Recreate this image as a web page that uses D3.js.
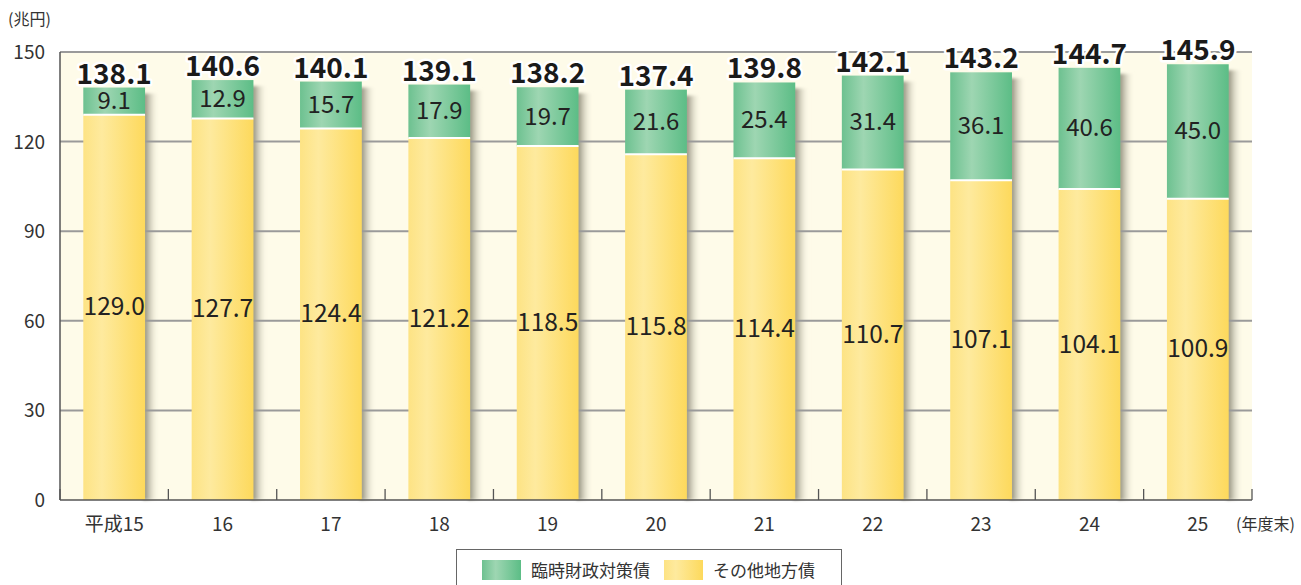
<!DOCTYPE html>
<html><head><meta charset="utf-8">
<script src="https://cdn.jsdelivr.net/npm/d3@7/dist/d3.min.js"></script>
<style>
body{margin:0;background:#fff;}
svg{display:block;font-family:"Noto Sans CJK JP","Noto Sans",sans-serif;}
</style></head>
<body><svg id="c" width="1301" height="585"></svg>
<script>
const categories = ["平成15","16","17","18","19","20","21","22","23","24","25"];
const otherDebt = [129.0,127.7,124.4,121.2,118.5,115.8,114.4,110.7,107.1,104.1,100.9];
const rinjiDebt = [9.1,12.9,15.7,17.9,19.7,21.6,25.4,31.4,36.1,40.6,45.0];
const totals = [138.1,140.6,140.1,139.1,138.2,137.4,139.8,142.1,143.2,144.7,145.9];
const yTicks = [0,30,60,90,120,150];
const seriesNames = ["臨時財政対策債","その他地方債"];

const svg = d3.select("#c");
const L=60, R=1252, T=52, B=500;
const x = d3.scaleBand().domain(categories).range([L,R]).paddingInner(0.43).paddingOuter(0.215);
const xb = d3.scaleBand().domain(categories).range([L,R]);
const y = d3.scaleLinear().domain([0,150]).range([B,T]);

const defs = svg.append("defs");
const gG = defs.append("linearGradient").attr("id","gG");
[[0,"#6dc190"],[0.35,"#9ed6b2"],[1,"#5cbd86"]].forEach(s=>gG.append("stop").attr("offset",s[0]).attr("stop-color",s[1]));
const gY = defs.append("linearGradient").attr("id","gY");
[[0,"#fde384"],[0.3,"#feea9e"],[1,"#fdd95c"]].forEach(s=>gY.append("stop").attr("offset",s[0]).attr("stop-color",s[1]));
const sh = defs.append("linearGradient").attr("id","sh");
[[0,"#85826f",1],[0.3,"#a9a694",0.8],[1,"#fefbe8",0]].forEach(s=>sh.append("stop").attr("offset",s[0]).attr("stop-color",s[1]).attr("stop-opacity",s[2]));
const flt = defs.append("filter").attr("id","blur").attr("x","-20%").attr("y","-20%").attr("width","140%").attr("height","140%");
flt.append("feGaussianBlur").attr("stdDeviation",1.5);

svg.append("rect").attr("x",L).attr("y",T).attr("width",R-L).attr("height",B-T).attr("fill","#fefbe9");

svg.append("g").selectAll("rect").data(categories).join("rect")
  .attr("x",d=>x(d)+x.bandwidth()-2).attr("y",(d,i)=>y(totals[i])+6)
  .attr("width",16).attr("height",(d,i)=>B-y(totals[i])-6)
  .attr("fill","url(#sh)").attr("filter","url(#blur)");

svg.append("g").selectAll("line").data(yTicks.filter(t=>t>0)).join("line")
  .attr("x1",L).attr("x2",R).attr("y1",d=>y(d)).attr("y2",d=>y(d))
  .attr("stroke","#9a9a9a").attr("stroke-width",2);

svg.append("g").selectAll("rect").data(categories).join("rect")
  .attr("x",d=>x(d)).attr("width",x.bandwidth())
  .attr("y",(d,i)=>y(otherDebt[i])).attr("height",(d,i)=>B-y(otherDebt[i]))
  .attr("fill","url(#gY)");
svg.append("g").selectAll("rect").data(categories).join("rect")
  .attr("x",d=>x(d)).attr("width",x.bandwidth())
  .attr("y",(d,i)=>y(otherDebt[i]+rinjiDebt[i])).attr("height",(d,i)=>y(otherDebt[i])-y(otherDebt[i]+rinjiDebt[i]))
  .attr("fill","url(#gG)");
svg.append("g").selectAll("line").data(categories).join("line")
  .attr("x1",d=>x(d)).attr("x2",d=>x(d)+x.bandwidth())
  .attr("y1",(d,i)=>y(otherDebt[i])).attr("y2",(d,i)=>y(otherDebt[i]))
  .attr("stroke","#fff").attr("stroke-width",2);

svg.append("line").attr("x1",L).attr("x2",L).attr("y1",T).attr("y2",B).attr("stroke","#555").attr("stroke-width",1.5);
svg.append("line").attr("x1",L).attr("x2",R).attr("y1",B).attr("y2",B).attr("stroke","#555").attr("stroke-width",1.5);
const tickXs = categories.map(d=>xb(d)).concat([R]);
svg.append("g").selectAll("line").data(tickXs).join("line")
  .attr("x1",d=>d).attr("x2",d=>d).attr("y1",B-11).attr("y2",B)
  .attr("stroke","#555").attr("stroke-width",1.3);

svg.append("g").selectAll("text").data(yTicks).join("text")
  .attr("x",45).attr("y",d=>y(d)+7).attr("text-anchor","end")
  .attr("font-size",19).attr("fill","#333").text(d=>d);
svg.append("g").selectAll("text").data(categories).join("text")
  .attr("x",d=>x(d)+x.bandwidth()/2).attr("y",531).attr("text-anchor","middle")
  .attr("font-size",19).attr("fill","#333").text(d=>d);
svg.append("text").attr("x",8).attr("y",25).attr("font-size",16).attr("fill","#333").text("(兆円)");
svg.append("text").attr("x",1236).attr("y",530).attr("font-size",16).attr("fill","#333").text("(年度末)");

svg.append("g").selectAll("text").data(categories).join("text")
  .attr("x",d=>x(d)+x.bandwidth()/2).attr("y",(d,i)=>y(otherDebt[i]/2)+8)
  .attr("text-anchor","middle").attr("font-size",24.5).attr("fill","#222")
  .text((d,i)=>otherDebt[i].toFixed(1));
svg.append("g").selectAll("text").data(categories).join("text")
  .attr("x",d=>x(d)+x.bandwidth()/2).attr("y",(d,i)=>y(otherDebt[i]+rinjiDebt[i]/2)+8)
  .attr("text-anchor","middle").attr("font-size",24).attr("fill","#222")
  .text((d,i)=>rinjiDebt[i].toFixed(1));
svg.append("g").selectAll("text").data(categories).join("text")
  .attr("x",d=>x(d)+x.bandwidth()/2).attr("y",(d,i)=>y(totals[i])-4)
  .attr("text-anchor","middle").attr("font-size",28).attr("font-weight","bold").attr("fill","#1a1a1a")
  .attr("stroke","#fff").attr("stroke-width",5).attr("paint-order","stroke").attr("stroke-linejoin","round")
  .text((d,i)=>totals[i].toFixed(1));

const lg = svg.append("g");
lg.append("rect").attr("x",456.5).attr("y",549.5).attr("width",385).attr("height",45).attr("fill","#fff").attr("stroke","#666");
const legItems = [{n:seriesNames[0],f:"url(#gG)",x:482},{n:seriesNames[1],f:"url(#gY)",x:664}];
legItems.forEach(it=>{
  lg.append("rect").attr("x",it.x).attr("y",560).attr("width",39).attr("height",20).attr("fill",it.f);
  lg.append("text").attr("x",it.x+49).attr("y",577).attr("font-size",17).attr("fill","#333").text(it.n);
});
</script></body></html>
